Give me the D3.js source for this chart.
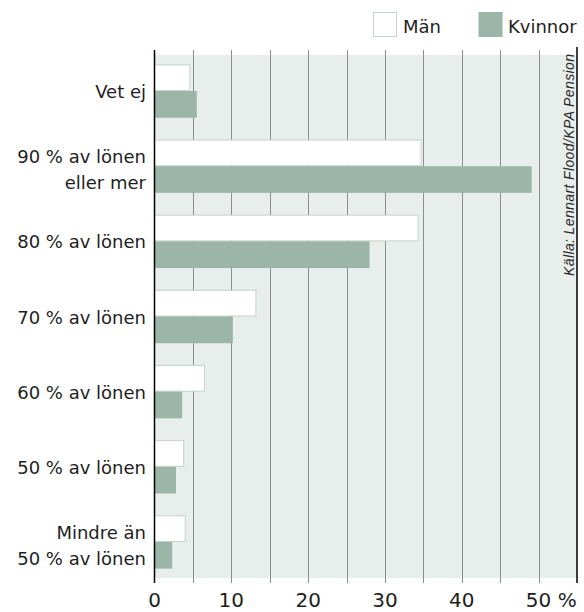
<!DOCTYPE html>
<html>
<head>
<meta charset="utf-8">
<script src="https://cdn.jsdelivr.net/npm/d3@7"></script>
<style>
  html, body { margin: 0; padding: 0; background: #fff; }
  svg { display: block; }
  .lbl { font-family: "DejaVu Sans", sans-serif; font-size: 18px; fill: #1e1e1e; }
  .tick-lbl { font-family: "DejaVu Sans", sans-serif; font-size: 20px; fill: #1e1e1e; }
  .src { font-family: "Liberation Sans", Arial, sans-serif; font-size: 14px; font-style: italic; fill: #2a2a2a; }
</style>
</head>
<body>
<svg id="chart" width="584" height="612"></svg>
<script>
// data (percent)
const categories = [
  "Vet ej",
  "90 % av lönen\neller mer",
  "80 % av lönen",
  "70 % av lönen",
  "60 % av lönen",
  "50 % av lönen",
  "Mindre än\n50 % av lönen"
];
const series = ["Män", "Kvinnor"];
const menValues = [4.6, 34.7, 34.3, 13.2, 6.5, 3.8, 4.0];
const womenValues = [5.5, 49.1, 28.0, 10.2, 3.6, 2.8, 2.3];
const gridValues = [5, 10, 15, 20, 25, 30, 35, 40, 45, 50];
const tickValues = [0, 10, 20, 30, 40, 50];
const sourceText = "Källa: Lennart Flood/KPA Pension";

const COL_BG = "#e8eeeb";
const COL_MEN = "#ffffff";
const COL_MEN_STROKE = "#c6d3cc";
const COL_WOMEN = "#9bb5a8";
const COL_GRID = "#8e8e8e";

const svg = d3.select("#chart");

const plot = { left: 154.5, right: 577, top: 55, bottom: 578 };

const x = d3.scaleLinear().domain([0, 55]).range([plot.left, plot.right]);
const y = d3.scaleBand().domain(categories).range([plot.top, plot.bottom])
  .paddingInner(0.29).paddingOuter(0.125);
const ySub = d3.scaleBand().domain(series).range([0, y.bandwidth()]);

const rows = categories.map((c, i) => ({ cat: c, values: [menValues[i], womenValues[i]] }));

// background panel
svg.append("rect")
  .attr("x", plot.left).attr("y", plot.top)
  .attr("width", plot.right - plot.left).attr("height", plot.bottom - plot.top)
  .attr("fill", COL_BG);

// grid lines (run a little past the panel, like ticks)
svg.append("g").selectAll("line")
  .data(gridValues)
  .join("line")
  .attr("x1", d => Math.round(x(d)) + 0.5).attr("x2", d => Math.round(x(d)) + 0.5)
  .attr("y1", 50).attr("y2", 583)
  .attr("stroke", COL_GRID).attr("stroke-width", 1);

// bars
const group = svg.append("g").selectAll("g")
  .data(rows)
  .join("g")
  .attr("transform", d => `translate(0,${y(d.cat)})`);

group.selectAll("rect")
  .data(d => d.values.map((v, j) => ({ key: series[j], value: v })))
  .join("rect")
  .attr("x", x(0))
  .attr("y", d => ySub(d.key) + (d.key === "Män" ? 0.5 : 0))
  .attr("width", d => x(d.value) - x(0))
  .attr("height", d => ySub.bandwidth() - (d.key === "Män" ? 1 : 0))
  .attr("fill", d => d.key === "Män" ? COL_MEN : COL_WOMEN)
  .attr("stroke", d => d.key === "Män" ? COL_MEN_STROKE : "none")
  .attr("stroke-width", 1);

// axis line at zero and frame line at right
svg.append("line")
  .attr("x1", x(0)).attr("x2", x(0)).attr("y1", 50).attr("y2", 583)
  .attr("stroke", "#000").attr("stroke-width", 1.5);
svg.append("line")
  .attr("x1", plot.right).attr("x2", plot.right).attr("y1", 47).attr("y2", 583)
  .attr("stroke", "#000").attr("stroke-width", 1.5);

// category labels
const labels = svg.append("g").selectAll("text")
  .data(categories)
  .join("text")
  .attr("class", "lbl")
  .attr("text-anchor", "end")
  .attr("x", 146)
  .attr("y", d => y(d) + y.bandwidth() / 2);

labels.each(function(d) {
  const lines = d.split("\n");
  const t = d3.select(this);
  lines.forEach((ln, i) => {
    const dy = lines.length === 1 ? 7 : (i === 0 ? -3 : 26);
    t.append("tspan").attr("x", 146).attr("dy", dy).text(ln);
  });
});

// x tick labels
const TICK_Y = 607;
const ticks = svg.append("g").selectAll("text")
  .data(tickValues)
  .join("text")
  .attr("class", "tick-lbl")
  .attr("text-anchor", "middle")
  .attr("x", d => x(d))
  .attr("y", TICK_Y)
  .text(d => d);

ticks.filter(d => d === 50).each(function() {
  const w = this.getComputedTextLength();
  svg.append("text")
    .attr("class", "tick-lbl")
    .attr("x", x(50) + w / 2)
    .attr("y", TICK_Y)
    .attr("xml:space", "preserve")
    .style("white-space", "pre")
    .text(" %");
});

// legend
const legendItems = [
  { key: "Män", bx: 373, tx: 403 },
  { key: "Kvinnor", bx: 478.5, tx: 508 }
];
const legend = svg.append("g").selectAll("g")
  .data(legendItems)
  .join("g");
legend.append("rect")
  .attr("x", d => d.bx + 0.5).attr("y", 12.5)
  .attr("width", 23).attr("height", 24)
  .attr("fill", d => d.key === "Män" ? COL_MEN : COL_WOMEN)
  .attr("stroke", d => d.key === "Män" ? COL_MEN_STROKE : COL_WOMEN);
legend.append("text")
  .attr("class", "lbl")
  .attr("x", d => d.tx).attr("y", 33)
  .text(d => d.key);

// source note, rotated
svg.append("text")
  .attr("class", "src")
  .attr("text-anchor", "end")
  .attr("transform", `translate(574,54) rotate(-90)`)
  .attr("textLength", 222)
  .attr("lengthAdjust", "spacing")
  .text(sourceText);
</script>
</body>
</html>
